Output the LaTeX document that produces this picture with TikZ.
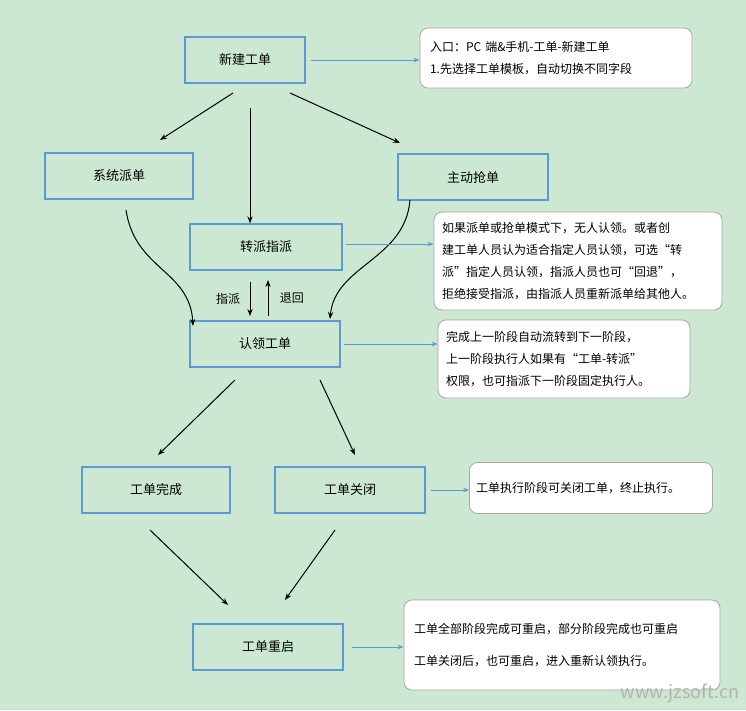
\documentclass[tikz,border=0pt]{standalone}
\usepackage{fontspec}
\setmainfont{Noto Sans CJK SC}
\usetikzlibrary{arrows.meta}
\definecolor{bg}{HTML}{CCE8D2}
\definecolor{bx}{HTML}{5B9BD5}
\tikzset{x=1pt,y=-1pt,
 box/.style={draw=bx,line width=1.2pt,fill=bg,minimum width=150pt,minimum height=46pt,font=\fontsize{13}{15}\selectfont},
 note/.style={draw=gray!70,line width=0.8pt,fill=white,rounded corners=8pt,font=\fontsize{12}{22}\selectfont,align=left},
 blk/.style={-{Stealth[length=7pt]},line width=1pt},
 blu/.style={-{Stealth[length=6pt]},draw=bx,line width=1pt}}
\begin{document}
\begin{tikzpicture}
\fill[bg] (0,0) rectangle (746,710);
\useasboundingbox (0,0) rectangle (746,710);
\node[box,minimum width=120pt] (new) at (245,60) {新建工单};
\node[box,minimum width=148pt] (sys) at (119,176) {系统派单};
\node[box] (grab) at (473,177) {主动抢单};
\node[box,minimum width=152pt] (tr) at (266,247) {转派指派};
\node[box] (cl) at (265,344) {认领工单};
\node[box,minimum width=148pt] (done) at (156,490) {工单完成};
\node[box] (close) at (350,490) {工单关闭};
\node[box] (re) at (268,647) {工单重启};
\node[note,minimum width=272pt,minimum height=60pt,text width=252pt] (n1) at (556,58) {入口：PC 端\&手机-工单-新建工单\\1.先选择工单模板，自动切换不同字段};
\node[note,minimum width=288pt,minimum height=98pt,text width=272pt] (n2) at (578,261) {如果派单或抢单模式下，无人认领。或者创\\建工单人员认为适合指定人员认领，可选“转\\派”指定人员认领，指派人员也可“回退”，\\拒绝接受指派，由指派人员重新派单给其他人。};
\node[note,minimum width=252pt,minimum height=78pt,text width=236pt] (n3) at (564,359) {完成上一阶段自动流转到下一阶段，\\上一阶段执行人如果有“工单-转派”\\权限，也可指派下一阶段固定执行人。};
\node[note,minimum width=243pt,minimum height=51pt,text width=230pt] (n4) at (591,488) {工单执行阶段可关闭工单，终止执行。};
\node[note,minimum width=316pt,minimum height=90pt,text width=296pt,font=\fontsize{12}{32}\selectfont] (n5) at (562,645) {工单全部阶段完成可重启，部分阶段完成也可重启\\工单关闭后，也可重启，进入重新认领执行。};
\coordinate (a1) at (233,93); \coordinate (a2) at (250,108); \coordinate (a3) at (290,93);
\draw[blk] (a1) -- (160,140);
\draw[blk] (a2) -- (tr.north -| a2);
\draw[blk] (a3) -- (400,143);
\draw[blk] (126,210) .. controls (135,270) and (190,270) .. (193,326);
\draw[blk] (410,200) .. controls (405,260) and (335,265) .. (330,319);
\draw[blk] (250,282) -- node[left=6pt,font=\fontsize{12}{14}\selectfont]{指派} (250,316);
\draw[blk] (268,316) -- node[right=8pt,font=\fontsize{12}{14}\selectfont]{退回} (268,280);
\draw[blk] (235,380) -- (158,455);
\draw[blk] (320,380) -- (355,455);
\draw[blk] (150,530) -- (228,605);
\draw[blk] (335,530) -- (285,600);
\draw[blu] (new.east) ++(5,0) -- (n1.west |- new.east);
\draw[blu] (tr.east) ++(3,-3) -- (n2.west |- 0,244);
\draw[blu] (cl.east) ++(3,0) -- (n3.west |- cl.east);
\draw[blu] (close.east) ++(5,0) -- (n4.west |- close.east);
\draw[blu] (re.east) ++(8,0) -- (n5.west |- re.east);
\node[text=gray!60,font=\fontsize{18}{20}\selectfont\itshape] (wm) at (680,693) {www.jzsoft.cn};
\end{tikzpicture}
\end{document}
